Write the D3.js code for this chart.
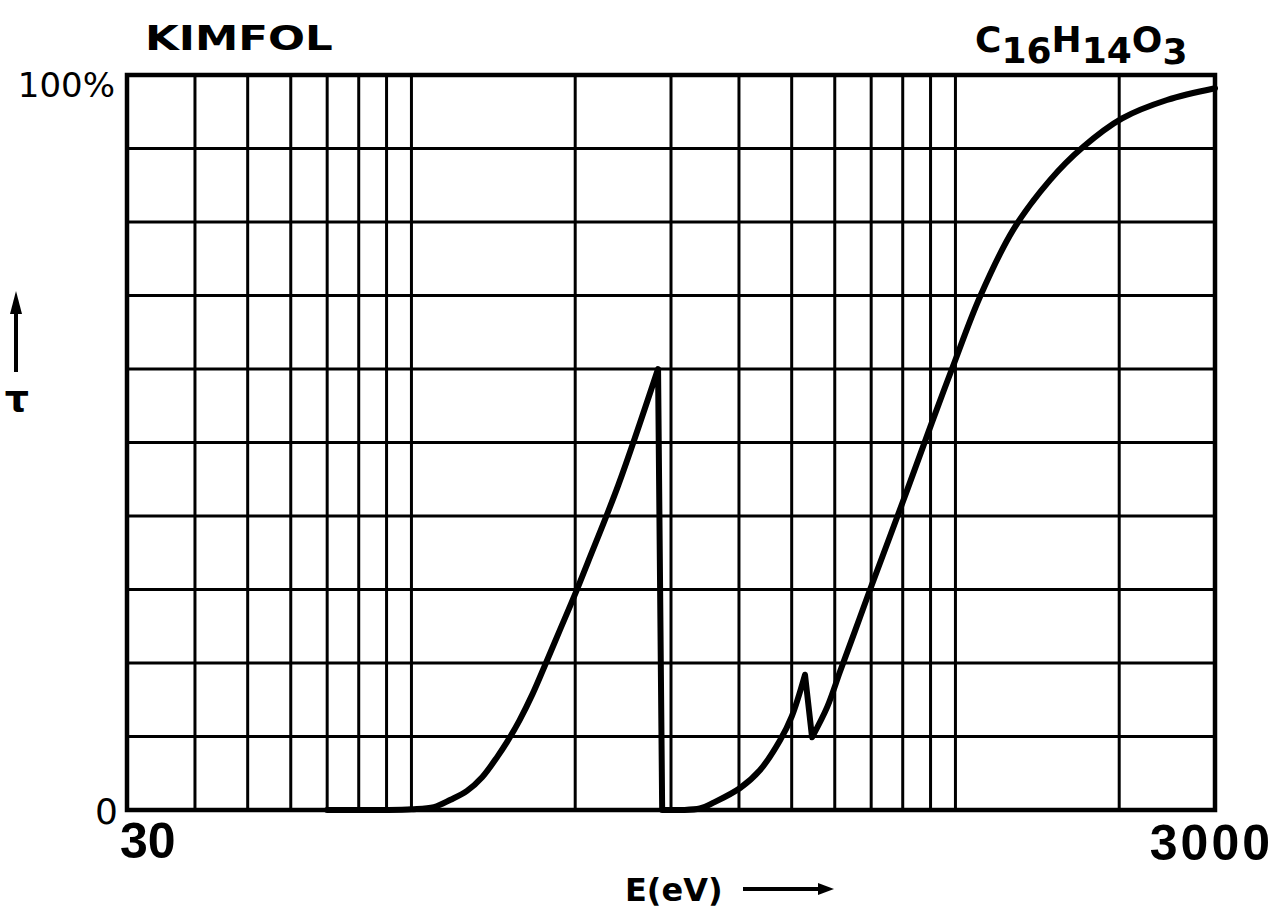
<!DOCTYPE html>
<html>
<head>
<meta charset="utf-8">
<script src="https://cdn.jsdelivr.net/npm/d3@7"></script>
<style>
  body { margin: 0; background: #fff; }
  svg { display: block; }
</style>
</head>
<body>
<script>
// transmission of a Kimfol (C16H14O3) foil vs photon energy
const energy = [70, 90, 100, 110, 118, 126.5, 135, 144, 150, 158, 167, 176, 187.5, 200, 211,
    240, 284, 289,
    312, 339, 359, 402, 437, 476, 500, 529, 545, 581, 614, 654, 696, 801, 905, 990, 1109,
    1276, 1492, 1716, 2025, 2448, 3000]
const tau = [0, 0, 0.1, 0.4, 1.4, 2.6, 4.5, 7.3, 9.3, 12.2, 15.8, 19.7, 24.5, 29.4, 33.7,
    44.2, 60, 0,
    0, 0.2, 1.0, 3.0, 5.4, 9.5, 12.7, 18.4, 9.9, 14, 18.9, 24.4, 29.9, 42.0, 52.7, 60.4, 69.8,
    78.9, 85.7, 90.2, 94.1, 96.6, 98.2]
// absorption edges (C K, O K): curve drops straight down after these
const edges = [284, 529]

const xGrid = [40, 50, 60, 70, 80, 90, 100, 200, 300, 400, 500, 600, 700, 800, 900, 1000, 2000]
const yGrid = d3.range(10, 100, 10)
const xDomain = [30, 3000]
const yDomain = [0, 100]

const width = 1279, height = 912
const margin = {left: 127, right: 64, top: 75, bottom: 102}

const svg = d3.select('body').append('svg')
    .attr('width', width)
    .attr('height', height)
    .style('font-family', '"DejaVu Sans", sans-serif')

const x = d3.scaleLog().domain(xDomain).range([margin.left, width - margin.right])
const y = d3.scaleLinear().domain(yDomain).range([height - margin.bottom, margin.top])

// grid
svg.append('g')
    .attr('stroke', '#000')
    .attr('stroke-width', 3)
    .selectAll('line')
    .data(xGrid)
    .join('line')
    .attr('x1', d => x(d)).attr('x2', d => x(d))
    .attr('y1', y(0)).attr('y2', y(100))

svg.append('g')
    .attr('stroke', '#000')
    .attr('stroke-width', 3)
    .selectAll('line')
    .data(yGrid)
    .join('line')
    .attr('y1', d => y(d)).attr('y2', d => y(d))
    .attr('x1', x(30)).attr('x2', x(3000))

// frame
svg.append('rect')
    .attr('x', x(30)).attr('y', y(100))
    .attr('width', x(3000) - x(30))
    .attr('height', y(0) - y(100))
    .attr('fill', 'none')
    .attr('stroke', '#000')
    .attr('stroke-width', 4.5)

// curve: smooth pieces joined by straight edge drops
const pts = energy.map((e, i) => [e, tau[i]])
const line = d3.line().x(d => x(d[0])).y(d => y(d[1])).curve(d3.curveCatmullRom.alpha(0.5))
const pieces = []
let start = 0
edges.forEach(edge => {
    const i = energy.indexOf(edge)
    pieces.push(line(pts.slice(start, i + 1)))
    start = i + 1
})
pieces.push(line(pts.slice(start)))
const path = pieces.map((p, i) => i ? p.replace(/^M/, 'L') : p).join('')

svg.append('path')
    .attr('d', path)
    .attr('fill', 'none')
    .attr('stroke', '#000')
    .attr('stroke-width', 6)
    .attr('stroke-linejoin', 'round')
    .attr('stroke-linecap', 'round')

// labels
svg.append('text')
    .attr('transform', 'translate(145,50) scale(1.28,1)')
    .attr('font-size', 34).attr('font-weight', 'bold')
    .text('KIMFOL')

const formula = svg.append('text')
    .attr('x', 975).attr('y', 52)
    .attr('font-size', 36).attr('font-weight', 'bold')
formula.append('tspan').text('C')
formula.append('tspan').attr('dy', 11).text('16')
formula.append('tspan').attr('dy', -11).text('H')
formula.append('tspan').attr('dy', 11).text('14')
formula.append('tspan').attr('dy', -11).text('O')
formula.append('tspan').attr('dy', 12).text('3')

svg.append('text')
    .attr('x', 115).attr('y', 97)
    .attr('text-anchor', 'end')
    .attr('font-size', 34)
    .text('100%')

svg.append('text')
    .attr('x', 118).attr('y', 824)
    .attr('text-anchor', 'end')
    .attr('font-size', 36)
    .text('0')

svg.append('text')
    .attr('x', 120).attr('y', 858)
    .attr('font-family', '"Liberation Sans", sans-serif')
    .attr('font-size', 50).attr('font-weight', 'bold')
    .text('30')

svg.append('text')
    .attr('x', 1273).attr('y', 860)
    .attr('text-anchor', 'end')
    .attr('font-family', '"Liberation Sans", sans-serif')
    .attr('font-size', 50).attr('font-weight', 'bold')
    .attr('letter-spacing', 3)
    .text('3000')

svg.append('text')
    .attr('x', 625).attr('y', 901)
    .attr('font-size', 32).attr('font-weight', 'bold')
    .text('E(eV)')

// x-axis arrow
svg.append('line')
    .attr('x1', 743).attr('x2', 822)
    .attr('y1', 889).attr('y2', 889)
    .attr('stroke', '#000').attr('stroke-width', 4)
svg.append('path')
    .attr('d', 'M834,889L818,883L818,895Z')
    .attr('fill', '#000')

// y-axis arrow and tau
svg.append('line')
    .attr('x1', 16).attr('x2', 16)
    .attr('y1', 372).attr('y2', 305)
    .attr('stroke', '#000').attr('stroke-width', 4)
svg.append('path')
    .attr('d', 'M16,291L10,314L22,314Z')
    .attr('fill', '#000')
svg.append('text')
    .attr('x', 17).attr('y', 411)
    .attr('text-anchor', 'middle')
    .attr('font-size', 38).attr('font-weight', 'bold')
    .text('τ')
</script>
</body>
</html>
